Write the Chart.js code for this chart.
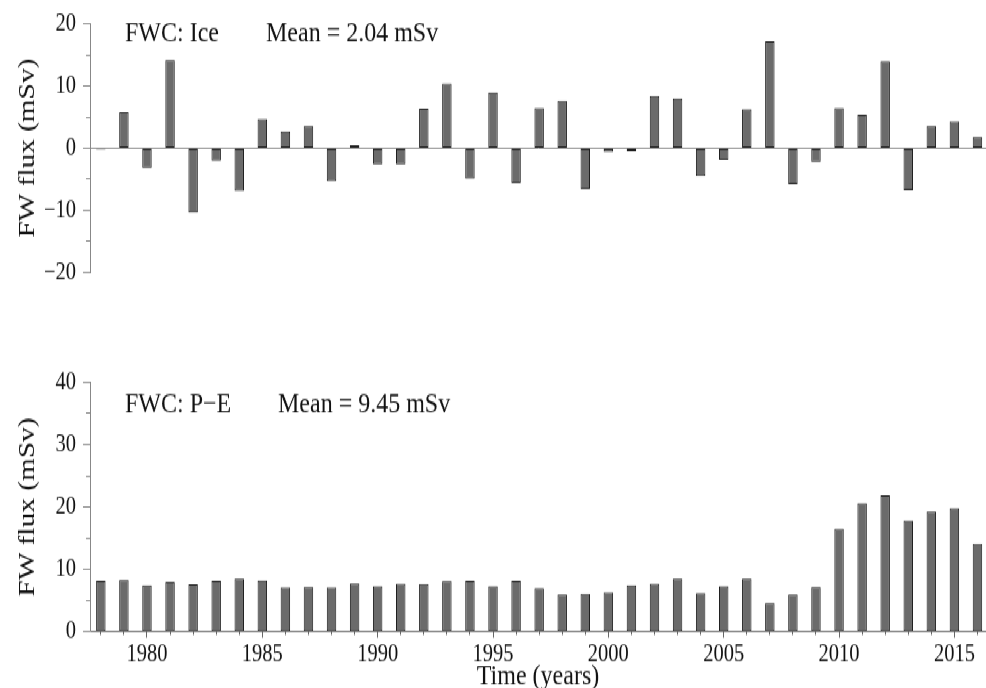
<!DOCTYPE html>
<html lang="en">
<head>
<meta charset="UTF-8">
<title>FWC freshwater fluxes</title>
<script src="https://cdn.jsdelivr.net/npm/chart.js"></script>
<style>
  body { margin: 0; background: #fff; overflow: hidden; }
  /* the original figure is stretched vertically, so the whole drawing is too */
  #wrap { position: absolute; left: 0; top: 0; width: 986px; height: 564px;
          transform: scaleY(1.22); transform-origin: 0 0; }
  canvas { position: absolute; left: 0; }
  #ice { top: 0; }
  #pe { top: 280px; }
</style>
</head>
<body>
<div id="wrap">
  <canvas id="ice" width="986" height="246"></canvas>
  <canvas id="pe" width="986" height="290"></canvas>
</div>
<script>
// years on the x axis
const years = [1978, 1979, 1980, 1981, 1982, 1983, 1984, 1985, 1986, 1987,
               1988, 1989, 1990, 1991, 1992, 1993, 1994, 1995, 1996, 1997,
               1998, 1999, 2000, 2001, 2002, 2003, 2004, 2005, 2006, 2007,
               2008, 2009, 2010, 2011, 2012, 2013, 2014, 2015, 2016];

// FW flux through ice (mSv)
const iceFlux = [-0.2, 5.8, -3.2, 14.2, -10.4, -2.0, -6.9, 4.7, 2.7, 3.6,
                 -5.3, 0.5, -2.6, -2.6, 6.4, 10.4, -4.9, 9.0, -5.6, 6.5,
                 7.6, -6.6, -0.6, -0.5, 8.4, 8.0, -4.5, -1.9, 6.3, 17.2,
                 -5.8, -2.2, 6.5, 5.4, 14.0, -6.8, 3.6, 4.3, 1.8];

// FW flux P-E (mSv)
const peFlux = [8.2, 8.35, 7.45, 8.0, 7.6, 8.2, 8.5, 8.25, 7.1, 7.15,
                7.1, 7.75, 7.3, 7.7, 7.65, 8.15, 8.2, 7.3, 8.2, 6.95,
                6.0, 6.1, 6.3, 7.45, 7.7, 8.5, 6.15, 7.3, 8.5, 4.6,
                6.0, 7.15, 16.5, 20.6, 21.9, 17.8, 19.3, 19.8, 14.1];

const iceLabels = ['FWC: Ice', 'Mean = 2.04 mSv'];
const peLabels = ['FWC: P\u2212E', 'Mean = 9.45 mSv'];

const serif = '"Liberation Serif", "Times New Roman", serif';
const ink = '#111';
const axisGrey = '#888';

// draws the two text notes inside the plot
const notes = {
  id: 'notes',
  afterDraw(chart, args, opts) {
    const ctx = chart.ctx;
    ctx.save();
    ctx.font = '24px ' + serif;
    ctx.fillStyle = ink;
    ctx.textBaseline = 'middle';
    opts.texts.forEach((t, i) => ctx.fillText(t, opts.xs[i], opts.y));
    ctx.restore();
  }
};

function fmt(v) {
  if (v % 10 !== 0) return '';
  return v < 0 ? '\u2212' + Math.abs(v) : String(v);
}

function makeChart(id, values, yMin, yMax, opts) {
  const data = years.map((yr, i) => ({ x: yr, y: values[i] }));
  return new Chart(document.getElementById(id), {
    type: 'bar',
    data: {
      datasets: [{
        data,
        backgroundColor: '#6b6b6b',
        borderColor: '#1e1e1e',
        borderWidth: 1,
        borderSkipped: false,
        barPercentage: 0.41,
        categoryPercentage: 1
      }]
    },
    options: {
      responsive: false,
      animation: false,
      devicePixelRatio: 1,
      layout: { padding: opts.padding },
      plugins: {
        legend: { display: false },
        tooltip: { enabled: false },
        notes: { texts: opts.texts, xs: opts.textX, y: opts.textY }
      },
      scales: {
        x: {
          type: 'linear',
          min: 1977.53,
          max: 2016.37,
          offset: false,
          display: opts.showX,
          afterBuildTicks: s => { s.ticks = years.map(v => ({ value: v })); },
          afterFit: s => { s.height = opts.showX ? 52.2 : 0; },
          border: { color: '#666' },
          grid: {
            offset: false,
            drawOnChartArea: false,
            tickColor: '#666',
            tickLength: 5,
            tickBorderDash: c => (c.tick && c.tick.value % 5 !== 0) ? [2.5, 20] : []
          },
          ticks: {
            autoSkip: false,
            maxRotation: 0,
            padding: 4,
            color: ink,
            font: { family: serif, size: 20.5, lineHeight: 1 },
            callback: v => (v % 5 === 0 ? String(v) : '')
          },
          title: {
            display: true,
            text: 'Time (years)',
            color: ink,
            font: { family: serif, size: 24, lineHeight: 1 },
            padding: { top: 0, bottom: 3.3 }
          }
        },
        y: {
          min: yMin,
          max: yMax,
          afterFit: s => { s.width = 90; },
          border: { color: axisGrey },
          grid: {
            drawOnChartArea: opts.zeroLine,
            color: c => (c.tick && c.tick.value === 0) ? axisGrey : 'rgba(0,0,0,0)',
            tickColor: axisGrey,
            tickLength: 7,
            tickBorderDash: c => (c.tick && c.tick.value % 10 !== 0) ? [0, 3, 4, 20] : []
          },
          ticks: {
            stepSize: 5,
            padding: 7,
            color: ink,
            font: { family: serif, size: 20.5, lineHeight: 1 },
            callback: fmt
          },
          title: {
            display: true,
            text: 'FW flux (mSv)',
            color: ink,
            font: { family: serif, size: 24 },
            padding: { top: 13, bottom: 0 }
          }
        }
      }
    },
    plugins: [notes]
  });
}

makeChart('ice', iceFlux, -20, 20, {
  padding: { top: 19.7, bottom: 22.8, left: 0, right: 0 },
  showX: false,
  zeroLine: true,
  texts: iceLabels,
  textX: [125, 266],
  textY: 28
});

makeChart('pe', peFlux, 0, 40, {
  padding: { top: 33.4, bottom: 0, left: 0, right: 0 },
  showX: true,
  zeroLine: false,
  texts: peLabels,
  textX: [125, 278],
  textY: 52
});
</script>
</body>
</html>
